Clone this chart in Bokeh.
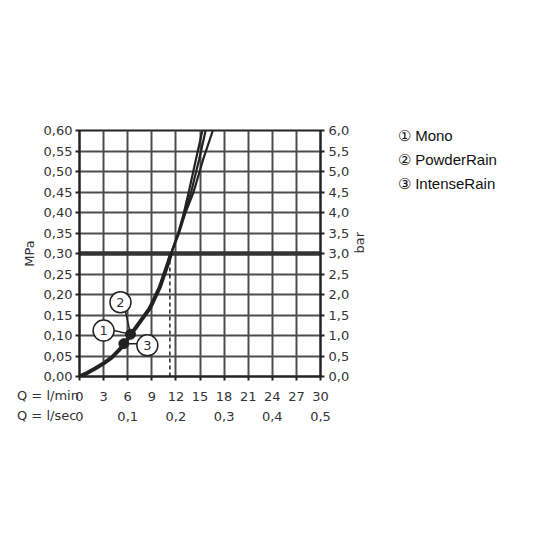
import math
from bokeh.plotting import figure
from bokeh.models import (Range1d, LinearAxis, FixedTicker, ColumnDataSource, Grid, Div)
from bokeh.layouts import row
from bokeh.core.properties import value
from bokeh.embed import file_html
from bokeh.resources import INLINE

# ---- data ----
q_lpm_ticks = [0, 3, 6, 9, 12, 15, 18, 21, 24, 27, 30]
q_lsec_ticks = [0, 0.1, 0.2, 0.3, 0.4, 0.5]
mpa_ticks = [0, 0.05, 0.10, 0.15, 0.20, 0.25, 0.30, 0.35, 0.40, 0.45, 0.50, 0.55, 0.60]
bar_ticks = [0, 0.5, 1.0, 1.5, 2.0, 2.5, 3.0, 3.5, 4.0, 4.5, 5.0, 5.5, 6.0]

low_q = [0, 1, 2, 3, 4, 5, 5.5, 6, 6.35, 7, 8, 8.63, 9, 10, 11, 11.4]
low_p = [0, 0.009, 0.02, 0.032, 0.046, 0.066, 0.078, 0.092, 0.102, 0.119, 0.146,
         0.163, 0.176, 0.218, 0.275, 0.30]

up_p = [0.30, 0.35, 0.40, 0.45, 0.53, 0.60]
mono_q = [11.4, 12.3, 13.0, 13.6, 14.5, 15.3]
powder_q = [11.4, 12.3, 13.1, 13.9, 14.9, 15.7]
intense_q = [11.4, 12.4, 13.2, 14.2, 15.4, 16.6]

ref_p = 0.30
ref_q = 11.25

pt_q = [6.35, 5.52]
pt_p = [0.103, 0.080]
call_names = ["1", "2", "3"]
call_q = [3.0, 5.1, 8.45]
call_p = [0.112, 0.181, 0.076]
lead_q0 = [4.27, 5.73, 7.19]
lead_p0 = [0.112, 0.157, 0.080]
lead_q1 = [6.14, 6.35, 5.52]
lead_p1 = [0.104, 0.105, 0.080]

legend_items = ["\u2460 Mono", "\u2461 PowderRain", "\u2462 IntenseRain"]
row_labels = ["Q = l/min", "Q = l/sec"]

FONT = "DejaVu Sans"
TXT = "#333333"
LINE = "#222222"
GRID = "#4d4d4d"

p = figure(width=380, height=520, output_backend="svg", toolbar_location=None,
           x_range=Range1d(0, 30), y_range=Range1d(0, 0.6),
           min_border_left=79, min_border_top=130, min_border_right=60,
           min_border_bottom=144, x_axis_type=None, y_axis_type=None)
p.outline_line_color = LINE
p.outline_line_width = 2
p.background_fill_color = "white"
p.border_fill_color = "white"

p.extra_y_ranges = {"bar": Range1d(0, 6)}
p.extra_x_ranges = {"lsec": Range1d(0, 0.5)}

def fmt(v, d):
    return f"{v:.{d}f}".replace(".", ",")

ya = LinearAxis(ticker=FixedTicker(ticks=mpa_ticks),
                major_label_overrides={t: fmt(t, 2) for t in mpa_ticks},
                axis_label="MPa")
yb = LinearAxis(y_range_name="bar", ticker=FixedTicker(ticks=bar_ticks),
                major_label_overrides={t: fmt(t, 1) for t in bar_ticks},
                axis_label="bar")
xa = LinearAxis(ticker=FixedTicker(ticks=q_lpm_ticks),
                major_label_overrides={t: str(t) for t in q_lpm_ticks})
xb = LinearAxis(x_range_name="lsec", ticker=FixedTicker(ticks=q_lsec_ticks),
                major_label_overrides={t: ("0" if t == 0 else fmt(t, 1)) for t in q_lsec_ticks})

for ax in (ya, yb, xa, xb):
    ax.axis_line_color = LINE
    ax.axis_line_width = 2
    ax.major_tick_line_color = LINE
    ax.major_tick_line_width = 2
    ax.major_tick_out = 4
    ax.major_tick_in = 0
    ax.minor_tick_line_color = None
    ax.major_label_text_font = FONT
    ax.major_label_text_font_size = "13px"
    ax.major_label_text_color = TXT
    ax.major_label_standoff = 3
    ax.axis_label_text_font = FONT
    ax.axis_label_text_font_size = "13px"
    ax.axis_label_text_font_style = "normal"
    ax.axis_label_text_color = TXT
xa.major_label_standoff = 11
xb.axis_line_color = None
xb.major_tick_line_color = None
xb.major_label_standoff = 4
yb.major_label_standoff = 4
ya.axis_label_standoff = 4
yb.axis_label_standoff = 7
yb.axis_label_orientation = math.pi / 2

p.add_layout(ya, "left")
p.add_layout(yb, "right")
p.add_layout(xa, "below")
p.add_layout(xb, "below")

gx = Grid(dimension=0, ticker=FixedTicker(ticks=q_lpm_ticks),
          grid_line_color=GRID, grid_line_width=2)
gy = Grid(dimension=1, ticker=FixedTicker(ticks=mpa_ticks),
          grid_line_color=GRID, grid_line_width=2)
p.add_layout(gx)
p.add_layout(gy)

p.line([0, 30], [ref_p, ref_p], line_color="#333333", line_width=4.5)
p.line([ref_q, ref_q], [0, ref_p], line_color=LINE, line_width=1.5, line_dash="4 3")

p.line(low_q, low_p, line_color=LINE, line_width=4)
for qs in (mono_q, powder_q, intense_q):
    p.line(qs, up_p, line_color=LINE, line_width=2.2)

p.segment(x0=lead_q0, y0=lead_p0, x1=lead_q1, y1=lead_p1, line_color=LINE, line_width=1.5)
p.scatter(pt_q, pt_p, size=10, fill_color=LINE, line_color=LINE)
src = ColumnDataSource(dict(x=call_q, y=call_p, t=call_names))
p.scatter("x", "y", source=src, size=21, fill_color="white", line_color=LINE, line_width=1.5)
p.text("x", "y", text="t", source=src, text_align="center", text_baseline="middle",
       text_font=value(FONT), text_font_size="13px", text_color=TXT)

legend_html = (
    "<div style=\"font-family:'Liberation Sans',Arial,sans-serif;font-size:15px;"
    "line-height:24px;color:#111111;padding-top:124px;padding-left:18px;"
    "white-space:nowrap;overflow:visible;\">"
    + "<br>".join(legend_items)
    + "<div style=\"font-family:'DejaVu Sans',sans-serif;font-size:13px;line-height:20px;"
      "color:#333333;margin-top:190px;margin-left:-381px;white-space:nowrap;\">"
    + "<br>".join(row_labels)
    + "</div></div>"
)
legend_div = Div(text=legend_html, width=140, height=520, margin=0,
                 styles={"overflow": "visible"},
                 stylesheets=[":host, :host * { overflow: visible !important; }"])

layout = row(p, legend_div, spacing=0)

open("out.html", "w").write(file_html(layout, INLINE))
